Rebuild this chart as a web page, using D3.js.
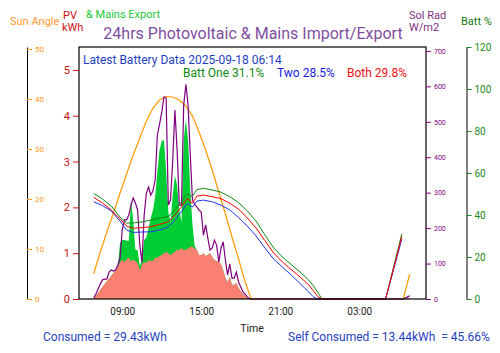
<!DOCTYPE html>
<html>
<head>
<meta charset="UTF-8">
<title>24hrs PV</title>
<script src="https://cdnjs.cloudflare.com/ajax/libs/d3/7.8.5/d3.min.js"></script>
<style>
  body { margin: 0; background: #fff; }
  svg text { font-family: Roboto, "Noto Sans", sans-serif; }
</style>
</head>
<body>
<div class="chart"></div>
<script>
  // day series on a 10 minute grid starting 06:50
  const gridStart = '17 06:50', gridStepMin = 10;
  const solRad = [3,14,28,42,54,56,56,76,82,79, 82,96,116,195,223,223,237,265,285,271,
    251,152,104,237,299,316,293,305,336,462, 493,527,570,567,265,279,392,533,420,265,
    265,547,606,547,406,279,268,259,251,245, 180,209,172,138,144,166,152,104,144,161,
    110,68,99,59,59,76,48,34,20,14, 6,1,0];
  const pvKwh = [0,0.07,0.13,0.20,0.26,0.33,0.39,0.44,0.50,0.57, 0.63,0.70,0.81,0.85,0.81,0.87,0.90,0.83,0.85,0.83,
    0.79,0.63,0.76,0.81,0.79,0.85,0.83,0.83,0.90,0.90, 0.94,0.96,1.00,1.03,1.00,0.96,1.00,1.03,1.07,1.07,
    1.11,1.07,1.07,1.11,1.14,1.14,1.11,1.07,0.96,0.96, 1.00,0.94,0.96,1.00,0.92,0.85,0.83,0.81,0.76,0.63,
    0.46,0.37,0.48,0.31,0.31,0.35,0.24,0.17,0.11,0.07, 0.02,0,0];
  const exportKwh = [0,0,0,0,0,0,0,0,0,0, 0,0,0.41,0.44,0.48,0.40,0.37,1.33,0.87,0.24,
    0.28,0.09,0.09,0.48,0.56,0.70,0.94,1.11,1.33,1.87, 2.31,2.49,2.47,1.79,0.90,0.72,1.27,1.66,1.42,0.87,
    0.57,2.40,2.84,2.36,1.24,0.48,0.05,0,0,0, 0,0,0,0,0,0,0,0,0,0,
    0,0,0,0,0,0,0,0,0,0, 0,0,0];
  // next morning
  const tailTimes = ['18 06:20','18 06:30','18 06:40','18 06:50'];
  const tailSolRad = [0,3,6,9];
  const tailPv = [0,0,0.01,0.03];

  const sunTimes = ['17 06:50','17 07:20','17 07:50','17 08:20','17 08:50','17 09:20','17 09:50','17 10:20',
    '17 10:50','17 11:20','17 11:50','17 12:20','17 12:50','17 13:20','17 13:50','17 14:20','17 14:50',
    '17 15:20','17 15:50','17 16:20','17 16:50','17 17:20','17 17:50','17 18:20','17 18:47','18 06:20','18 06:50'];
  const sunAngle = [5.1,9.4,13.4,17.2,21.2,25.0,28.8,32.2,35.6,38.2,39.8,40.5,40.4,39.8,38.6,36.6,33.4,
    29.8,25.8,21.4,17.0,12.4,8.0,3.4,0,0,5.0];

  const battTimes = ['17 06:50','17 07:30','17 08:10','17 08:50','17 09:20','17 09:50','17 10:30','17 11:10',
    '17 11:50','17 12:30','17 13:00','17 13:30','17 13:50','17 14:00','17 14:10','17 14:20','17 14:40',
    '17 15:10','17 15:50','17 16:30','17 17:10','17 17:50','17 18:30','17 19:10','17 19:50','17 20:30',
    '17 21:10','17 21:50','17 22:30','17 23:10','17 23:30','17 23:50','18 00:10','18 05:00','18 06:14'];
  const battOne = [50.3,47.6,44.3,39.0,36.2,36.2,36.7,37.6,38.6,39.2,42.4,46.3,49.5,50.3,49.0,49.0,52.1,
    52.7,51.9,50.9,48.7,45.9,41.9,37.1,30.5,24.3,20.0,16.4,12.9,9.0,6.4,3.3,0,0,31.1];
  const battBoth = [48.4,45.7,42.4,38.1,34.7,33.7,34.0,34.4,35.5,36.8,40.0,43.9,47.1,47.9,46.2,45.7,49.0,
    49.5,48.7,47.8,45.6,42.8,38.6,33.8,27.8,21.9,17.6,14.0,10.5,6.7,4.0,1.2,0,0,29.8];
  const battTwo = [46.3,44.5,41.9,37.1,32.8,31.7,31.9,32.0,32.8,34.4,37.6,41.6,44.7,45.6,44.3,43.8,46.6,
    47.1,46.3,44.7,42.4,38.8,34.7,30.0,24.3,19.0,15.2,11.4,7.4,3.3,1.1,0,0,0,28.5];

  const xTicks = ['17 09:00','17 15:00','17 21:00','18 03:00'];
  const pvTicks = [0,1,2,3,4,5];
  const sunTicks = [0,10,20,30,40,50];
  const solTicks = [0,100,200,300,400,500,600,700];
  const battTicks = [0,20,40,60,80,100,120];

  const parse = d3.timeParse('%d %H:%M');
  const box = {l: 79, r: 426, t: 47, b: 299};

  const svg = d3.select('.chart').append('svg').attr('width', 500).attr('height', 353);

  const x = d3.scaleTime().domain([parse('17 05:43'), parse('18 08:04')]).range([box.l, box.r]);
  const yPv = d3.scaleLinear().domain([0, 5.5]).range([box.b, box.t]);
  const ySun = d3.scaleLinear().domain([0, 50.4]).range([box.b, box.t]);
  const ySol = d3.scaleLinear().domain([0, 711]).range([box.b, box.t]);
  const yBatt = d3.scaleLinear().domain([0, 120]).range([box.b, box.t]);

  const t0 = parse(gridStart);
  const day = solRad.map((v, i) => ({t: d3.timeMinute.offset(t0, i * gridStepMin), sol: v, pv: pvKwh[i], ex: exportKwh[i]}))
    .concat(tailTimes.map((s, i) => ({t: parse(s), sol: tailSolRad[i], pv: tailPv[i], ex: 0})));
  const sun = sunTimes.map((s, i) => ({t: parse(s), v: sunAngle[i]}));
  const batt = battTimes.map((s, i) => ({t: parse(s), one: battOne[i], two: battTwo[i], both: battBoth[i]}));

  // areas
  svg.append('path').datum(day).attr('fill', '#00cc33')
    .attr('d', d3.area().x(d => x(d.t)).y0(yPv(0)).y1(d => yPv(d.pv + d.ex)));
  svg.append('path').datum(day).attr('fill', '#fa8072')
    .attr('d', d3.area().x(d => x(d.t)).y0(yPv(0)).y1(d => yPv(d.pv)));

  svg.append('path').datum(sun).attr('fill', 'none').attr('stroke', '#ff9900').attr('stroke-width', 1.2)
    .attr('d', d3.line().x(d => x(d.t)).y(d => ySun(d.v)));
  svg.append('path').datum(day).attr('fill', 'none').attr('stroke', '#800080').attr('stroke-width', 1.2)
    .attr('d', d3.line().x(d => x(d.t)).y(d => ySol(d.sol)));

  [['one', '#118811'], ['two', '#2233ee'], ['both', '#ff0000']].forEach(([k, c]) => {
    svg.append('path').datum(batt).attr('fill', 'none').attr('stroke', c).attr('stroke-width', 1)
      .attr('d', d3.line().x(d => x(d.t)).y(d => yBatt(d[k])));
  });

  svg.append('rect').attr('x', box.l).attr('y', box.t).attr('width', box.r - box.l).attr('height', box.b - box.t)
    .attr('fill', 'none').attr('stroke', '#000').attr('stroke-width', 1.2);

  function styleAxis(g, color, size, keepDomain) {
    g.selectAll('.tick line').attr('stroke', color);
    g.selectAll('.tick text').attr('fill', color).style('font-size', size + 'px').style('font-family', 'Roboto');
    if (!keepDomain) g.select('.domain').remove();
    else g.select('.domain').attr('stroke', '#000');
  }

  svg.append('g').attr('transform', `translate(${box.l},0)`)
    .call(d3.axisLeft(yPv).tickValues(pvTicks).tickFormat(d3.format('d')).tickSize(6).tickSizeOuter(0))
    .call(g => styleAxis(g, '#cc1111', 11, false));
  svg.append('g').attr('transform', 'translate(27,0)')
    .call(d3.axisRight(ySun).tickValues(sunTicks).tickSize(5).tickSizeOuter(0))
    .call(g => styleAxis(g, '#ff9922', 8, true));
  svg.append('g').attr('transform', `translate(${box.r},0)`)
    .call(d3.axisRight(ySol).tickValues(solTicks).tickSize(5).tickSizeOuter(0))
    .call(g => styleAxis(g, '#800080', 7, false));
  svg.append('g').attr('transform', 'translate(466.5,0)')
    .call(d3.axisRight(yBatt).tickValues(battTicks).tickSize(5).tickSizeOuter(0))
    .call(g => styleAxis(g, '#228822', 10, true));
  svg.append('g').attr('transform', `translate(0,${box.b})`)
    .call(d3.axisBottom(x).tickValues(xTicks.map(parse)).tickFormat(d3.timeFormat('%H:%M')).tickSize(0).tickPadding(9))
    .call(g => styleAxis(g, '#222', 10, false));

  const txt = (s, xx, yy, color, size, anchor) => svg.append('text').attr('x', xx).attr('y', yy)
    .attr('fill', color).style('font-size', size + 'px').attr('text-anchor', anchor || 'start').text(s);

  txt('24hrs Photovoltaic & Mains Import/Export', 253, 39, '#7f4f9f', 16, 'middle');
  txt('Sun Angle', 10, 25, '#ff9933', 11);
  txt('.', 60, 18, '#ff9933', 9);
  txt('PV', 63, 19, '#cc1111', 11);
  txt('kWh', 62, 31, '#cc1111', 11);
  txt('& Mains Export', 86, 17.5, '#22c83a', 11);
  txt('Sol Rad', 409, 19, '#803080', 11);
  txt('W/m2', 409, 31, '#803080', 11);
  txt('Batt %', 461, 25, '#117711', 11);
  txt('Latest Battery Data 2025-09-18 06:14', 83, 64, '#1f3fbf', 12);
  txt('Batt One 31.1%', 183, 77, '#118811', 12);
  txt('Two 28.5%', 277, 77, '#1a1add', 12);
  txt('Both 29.8%', 347, 77, '#ee1111', 12);
  txt('Time', 252, 332, '#222', 10.5, 'middle');
  txt('Consumed = 29.43kWh', 43, 341, '#1f3fbf', 12);
  txt('Self Consumed = 13.44kWh  = 45.66%', 288, 341, '#1f3fbf', 12).attr('xml:space', 'preserve');
</script>
</body>
</html>
